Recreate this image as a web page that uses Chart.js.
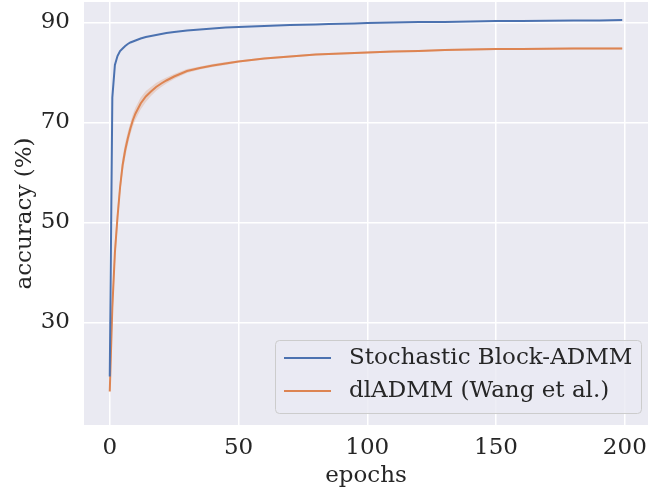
<!DOCTYPE html>
<html>
<head>
<meta charset="utf-8">
<script src="https://cdn.jsdelivr.net/npm/chart.js@4.4.0/dist/chart.umd.min.js"></script>
<style>
html,body{margin:0;padding:0;background:#fff;}
#c{display:block;}
</style>
</head>
<body>
<canvas id="c" width="668" height="493"></canvas>
<script>
const epochs = [0,1,2,3,4,5,6,7,8,9,10,12,14,16,18,20,22,25,30,35,40,45,50,55,60,65,70,75,80,85,90,95,100,110,120,130,140,150,160,170,180,190,199];
const sbadmm = [19.2,75,81.5,83.3,84.3,84.8,85.3,85.7,86.0,86.2,86.4,86.8,87.1,87.3,87.5,87.7,87.9,88.1,88.4,88.6,88.8,89.0,89.1,89.2,89.3,89.4,89.5,89.55,89.6,89.7,89.75,89.8,89.9,90.0,90.1,90.1,90.2,90.3,90.3,90.35,90.4,90.4,90.5];
const dladmm = [16.2,33,44,51,57,61.5,64.5,66.8,68.8,70.5,71.8,73.8,75.2,76.2,77.1,77.8,78.4,79.2,80.3,80.9,81.4,81.8,82.2,82.5,82.8,83.0,83.2,83.4,83.6,83.7,83.8,83.9,84.0,84.2,84.3,84.5,84.6,84.7,84.7,84.75,84.8,84.8,84.8];
const dladmmLow = [13.2,30,41.5,49,55.5,60,63,65.5,67.6,69.3,70.6,72.6,74.1,75.3,76.3,77.1,77.8,78.7,79.9,80.6,81.1,81.5,82.0,82.3,82.6,82.8,83.0,83.2,83.4,83.5,83.6,83.7,83.8,84.0,84.1,84.3,84.4,84.5,84.5,84.55,84.6,84.6,84.6];
const dladmmHigh = [18.5,36,46.5,53,58.5,63,66,68.1,70,71.7,73,75,76.3,77.1,77.9,78.5,79,79.7,80.7,81.2,81.7,82.1,82.4,82.7,83.0,83.2,83.4,83.6,83.8,83.9,84.0,84.1,84.2,84.4,84.5,84.7,84.8,84.9,84.9,84.95,85.0,85.0,85.0];
const xTicks = [0,50,100,150,200];
const yTicks = [30,50,70,90];
const labels = ['Stochastic Block-ADMM','dlADMM (Wang et al.)'];
const colors = ['#4C72B0','#DD8452'];

const FONT = "'DejaVu Serif', serif";

function pts(ys){
	return epochs.map((e,i)=>({x:e,y:ys[i]}));
}

const bgPlugin = {
	id:'bg',
	beforeDraw(chart){
		const a = chart.chartArea, ctx = chart.ctx;
		ctx.save();
		ctx.fillStyle = '#EAEAF2';
		ctx.fillRect(a.left,a.top,a.right-a.left,a.bottom-a.top);
		ctx.restore();
	}
};

// legend box in the lower right of the plot, like matplotlib's
const legendPlugin = {
	id:'boxLegend',
	afterDraw(chart){
		const a = chart.chartArea, ctx = chart.ctx;
		const w = 366, h = 73;
		const x = a.right - 7 - w, y = a.bottom - 12 - h;
		ctx.save();
		ctx.beginPath();
		ctx.roundRect(x+0.5,y+0.5,w,h,4);
		ctx.fillStyle = 'rgba(234,234,242,0.8)';
		ctx.fill();
		ctx.strokeStyle = '#cccccc';
		ctx.lineWidth = 1;
		ctx.stroke();
		ctx.font = '23px ' + FONT;
		ctx.textBaseline = 'middle';
		for (let i = 0; i < labels.length; i++){
			const ly = y + 18 + i*33;
			ctx.strokeStyle = colors[i];
			ctx.lineWidth = 2;
			ctx.beginPath();
			ctx.moveTo(x+9,ly);
			ctx.lineTo(x+56,ly);
			ctx.stroke();
			ctx.fillStyle = '#262626';
			ctx.fillText(labels[i], x+74, ly);
		}
		ctx.restore();
	}
};

const data = {
	datasets:[
		{label:labels[0],data:pts(sbadmm),borderColor:colors[0],backgroundColor:colors[0],borderWidth:2,pointRadius:0,fill:false},
		{label:labels[1],data:pts(dladmm),borderColor:colors[1],backgroundColor:colors[1],borderWidth:2,pointRadius:0,fill:false},
		{label:'band-high',data:pts(dladmmHigh),borderWidth:0,pointRadius:0,backgroundColor:'rgba(221,132,82,0.25)',fill:'+1'},
		{label:'band-low',data:pts(dladmmLow),borderWidth:0,pointRadius:0,fill:false}
	]
};

const config = {
	type:'line',
	data:data,
	plugins:[bgPlugin,legendPlugin],
	options:{
		responsive:false,
		animation:false,
		devicePixelRatio:1,
		layout:{padding:{top:2,right:20,left:0,bottom:0}},
		plugins:{legend:{display:false},tooltip:{enabled:false}},
		scales:{
			x:{
				type:'linear',min:-10,max:209,
				afterBuildTicks(s){ s.ticks = xTicks.map(v=>({value:v})); },
				afterFit(s){ s.height = 68; s.paddingLeft = 0; s.paddingRight = 0; },
				grid:{color:'#ffffff',lineWidth:1.5,drawTicks:false},
				border:{display:false},
				ticks:{font:{family:FONT,size:23},color:'#262626',padding:9,maxRotation:0},
				title:{display:true,text:'epochs',font:{family:FONT,size:23},color:'#262626',padding:{top:0,bottom:3}}
			},
			y:{
				type:'linear',min:9.5,max:94.1,
				afterBuildTicks(s){ s.ticks = yTicks.map(v=>({value:v})); },
				afterFit(s){ s.width = 84; s.paddingTop = 0; s.paddingBottom = 0; },
				grid:{color:'#ffffff',lineWidth:1.5,drawTicks:false},
				border:{display:false},
				ticks:{font:{family:FONT,size:23},color:'#262626',padding:14},
				title:{display:true,text:'accuracy (%)',font:{family:FONT,size:23},color:'#262626',padding:{top:11,bottom:0}}
			}
		}
	}
};

let ctx = document.getElementById('c').getContext('2d');
new Chart(ctx, config);
</script>
</body>
</html>
